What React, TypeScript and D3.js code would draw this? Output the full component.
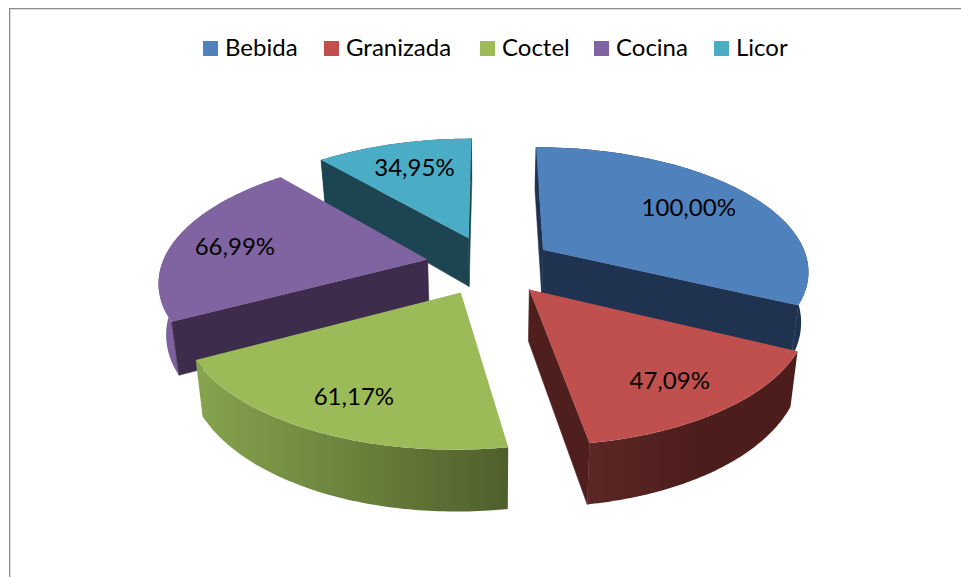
import React from "react";
import * as d3 from "d3";

const categories = ["Bebida", "Granizada", "Coctel", "Cocina", "Licor"];
const values = [100.0, 47.09, 61.17, 66.99, 34.95];
const valueLabels = ["100,00%", "47,09%", "61,17%", "66,99%", "34,95%"];
const topColors = ["#4f81bd", "#c0504d", "#9bbb59", "#8064a2", "#4bacc6"];
const cutColors = ["#1f3350", "#4f1f1e", "#4f5f2b", "#3d2c4c", "#1d4551"];
const rimFrom = ["#1f3350", "#5c2725", "#86a44e", "#7f63a0", "#1d4551"];
const rimTo = ["#1f3350", "#4c1d1b", "#4f5f2b", "#6f558c", "#1d4551"];
const rimMid = [1, 0.55, 1, 1, 1];
const legendX = [203, 324, 480, 594, 714];
const labelRadii = [0.7, 0.78, 0.8, 0.78, 0.72];
const labelDx = [2, -6, 7, 4, 2];
const labelDy = [-1, 0, -3, 4, 0];
const paintOrder = [4, 3, 0, 1, 2];

const W = 961, H = 577;
const cx = 490, cy = 265, sx = 266, sy = 123, persp = 0.157, explode = 0.24, depth = 50, shrink = 0.977;

type Pt = [number, number];
const project = (x: number, z: number, low = false): Pt => {
  const w = 1 / (1 - persp * z);
  return [
    cx + sx * x * w * (low ? shrink : 1),
    cy + sy * z * w + (low ? depth * w : 0),
  ];
};
const line = d3.line<Pt>().curve(d3.curveLinear);

const pie = d3.pie<number>().sort(null).startAngle(0).endAngle(2 * Math.PI);
const arcs = pie(values);

// A cut face is drawn only if it turns towards the viewer.
const turn = (q: Pt[]) => (q[1][0] - q[0][0]) * (q[2][1] - q[1][1]) - (q[1][1] - q[0][1]) * (q[2][0] - q[1][0]);

export default function App() {
  const slices = arcs.map((a, i) => {
    const mid = (a.startAngle + a.endAngle) / 2;
    const tx = explode * Math.sin(mid), tz = -explode * Math.cos(mid);
    const rim = (t: number): Pt => [tx + Math.sin(t), tz - Math.cos(t)];
    const ts = d3.range(0, 81).map((k) => a.startAngle + ((a.endAngle - a.startAngle) * k) / 80);
    const rimPts = ts.map(rim);
    const upper = rimPts.map(([x, z]) => project(x, z));
    const lower = rimPts.map(([x, z]) => project(x, z, true));
    const top = [project(tx, tz), ...upper];
    const cut = (p: Pt): Pt[] => [
      project(tx, tz), project(p[0], p[1]), project(p[0], p[1], true), project(tx, tz, true),
    ];
    const cutA = cut(rimPts[0]);
    const cutB = cut(rimPts[rimPts.length - 1]);
    const cuts: string[] = [];
    if (turn(cutA) < 0) cuts.push(line(cutA) + "Z");
    if (turn(cutB) > 0) cuts.push(line(cutB) + "Z");
    const r = labelRadii[i];
    const labelPos = project(tx + r * Math.sin(mid), tz - r * Math.cos(mid));
    return {
      i,
      top: line(top) + "Z",
      rim: line([...upper, ...lower.slice().reverse()]) + "Z",
      cuts,
      labelPos,
    };
  });
  const font = "Lato, Carlito, sans-serif";
  return (
    <svg width={W} height={H} viewBox={`0 0 ${W} ${H}`} style={{ position: "absolute", left: 0, top: 0, display: "block", background: "#fff" }}>
      <defs>
        {categories.map((c, i) => (
          <linearGradient key={c} id={`rim${i}`} x1="0" x2="1" y1="0" y2="0">
            <stop offset="0" stopColor={rimFrom[i]} />
            <stop offset={rimMid[i]} stopColor={rimTo[i]} />
          </linearGradient>
        ))}
      </defs>
      <rect x={10.5} y={9.5} width={W} height={H} fill="none" stroke="#dcdcdc" strokeWidth={1} />
      <rect x={9.5} y={8.5} width={W} height={H} fill="none" stroke="#8c8c8c" strokeWidth={1} />
      {categories.map((c, i) => (
        <g key={c}>
          <rect x={legendX[i]} y={41} width={15} height={15} fill={topColors[i]} />
          <text x={legendX[i] + 22} y={56} fontFamily={font} fontSize={24} fill="#000">{c}</text>
        </g>
      ))}
      {paintOrder.map((idx) => {
        const s = slices[idx];
        return (
          <g key={idx}>
            <path d={s.rim} fill={`url(#rim${idx})`} />
            {s.cuts.map((d, k) => (
              <path key={k} d={d} fill={cutColors[idx]} stroke={cutColors[idx]} strokeWidth={0.5} />
            ))}
            <path d={s.top} fill={topColors[idx]} />
          </g>
        );
      })}
      {paintOrder.map((idx) => (
        <text key={idx} x={slices[idx].labelPos[0] + labelDx[idx]} y={slices[idx].labelPos[1] + labelDy[idx]} dy="0.35em" textAnchor="middle" fontFamily={font} fontSize={24} fill="#000">
          {valueLabels[idx]}
        </text>
      ))}
    </svg>
  );
}
